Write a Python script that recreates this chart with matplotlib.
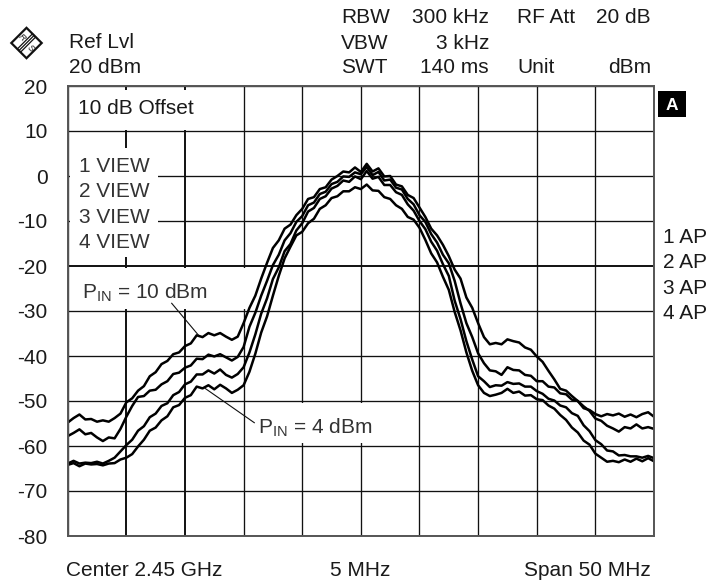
import matplotlib
matplotlib.use("Agg")
import matplotlib.pyplot as plt
from matplotlib.patches import Rectangle, Polygon

W, H = 713, 586
plt.rcParams['font.family'] = ['Liberation Sans', 'DejaVu Sans']
plt.rcParams['mathtext.fontset'] = 'custom'
plt.rcParams['mathtext.rm'] = 'Liberation Sans'

y_ticks = [20, 10, 0, -10, -20, -30, -40, -50, -60, -70, -80]
y_labels = ['20', '10', '0', '-10', '-20', '-30', '-40', '-50', '-60', '-70', '-80']
x_ticks = [-25, -20, -15, -10, -5, 0, 5, 10, 15, 20, 25]

freq = [i * 0.5 - 25 for i in range(101)]

trace1 = [-54.8, -53.8, -53.0, -54.1, -54.0, -54.6, -54.3, -54.6, -53.8, -52.8,
          -50.3, -49.4, -47.7, -46.7, -44.5, -43.6, -41.8, -41.1, -39.6, -39.2,
          -37.8, -37.2, -35.4, -35.8, -34.9, -35.4, -34.9, -35.7, -36.4, -35.7,
          -32.7, -29.3, -26.6, -22.8, -19.3, -16.0, -14.3, -11.7, -10.8, -8.7,
          -7.3, -5.1, -4.7, -2.9, -2.5, -0.8, 0.0, 1.0, 0.8, 1.9,
          0.9, 2.7, 1.0, 1.7, -0.1, 0.0, -1.9, -2.3, -4.2, -4.9,
          -7.0, -9.1, -11.7, -13.2, -15.3, -17.8, -20.8, -22.8, -27.0, -29.3,
          -32.7, -35.8, -37.4, -37.1, -37.4, -36.3, -36.7, -37.0, -38.1, -38.6,
          -40.1, -41.3, -43.3, -45.2, -47.3, -47.7, -48.9, -50.0, -51.6, -52.0,
          -52.9, -53.4, -52.9, -53.2, -52.8, -53.5, -53.0, -53.6, -52.9, -52.5, -53.5]

trace2 = [-57.8, -57.1, -56.3, -57.4, -57.1, -58.1, -58.9, -58.1, -58.3, -56.2,
          -53.5, -51.1, -49.1, -48.9, -47.7, -47.5, -46.3, -45.6, -44.0, -43.7,
          -42.6, -42.1, -40.6, -40.7, -39.7, -40.1, -39.6, -40.3, -41.0, -40.2,
          -38.0, -33.5, -30.4, -26.6, -23.3, -19.8, -17.5, -14.3, -12.7, -10.2,
          -8.9, -6.5, -5.9, -4.0, -3.5, -1.8, -1.3, -0.1, -0.2, 0.8,
          0.4, 2.0, 0.2, 0.9, -1.0, -0.8, -2.6, -3.0, -5.1, -6.3,
          -8.7, -10.2, -12.9, -14.8, -17.5, -19.4, -23.3, -28.3, -32.7, -35.8,
          -39.4, -41.6, -43.2, -43.4, -44.2, -42.5, -43.1, -43.2, -44.2, -44.4,
          -45.6, -45.6, -46.8, -47.0, -48.3, -48.5, -49.7, -50.0, -51.2, -52.2,
          -53.9, -54.4, -55.5, -56.1, -56.8, -55.8, -56.1, -55.2, -56.1, -55.8, -56.2]

trace3 = [-63.9, -63.3, -63.9, -63.7, -63.8, -63.5, -63.9, -63.3, -62.6, -61.2,
          -59.8, -58.6, -56.6, -55.6, -53.6, -52.8, -51.1, -50.5, -48.7, -48.0,
          -46.3, -45.7, -44.1, -44.1, -43.2, -43.9, -43.0, -44.2, -44.8, -44.0,
          -42.5, -39.2, -35.2, -30.6, -27.2, -22.9, -20.3, -16.7, -15.1, -12.1,
          -10.5, -7.9, -7.1, -5.1, -4.5, -2.8, -2.2, -1.0, -1.3, -0.1,
          -0.7, 1.1, -0.6, -0.2, -2.0, -2.0, -3.6, -4.2, -6.3, -7.7,
          -10.0, -11.8, -14.6, -16.6, -19.6, -22.2, -27.7, -31.8, -36.7, -40.8,
          -44.5, -45.6, -46.9, -46.5, -46.6, -45.8, -46.2, -46.1, -46.8, -46.8,
          -47.8, -48.4, -49.5, -49.9, -51.0, -51.4, -52.7, -53.3, -55.4, -56.7,
          -58.7, -59.6, -61.0, -61.2, -62.1, -62.0, -62.3, -62.3, -62.6, -62.2, -62.7]

trace4 = [-64.2, -63.8, -64.5, -63.9, -64.1, -64.0, -64.3, -63.9, -63.8, -63.0,
          -62.6, -61.8, -60.1, -58.6, -56.6, -55.9, -54.3, -53.4, -51.4, -50.9,
          -49.3, -48.7, -46.8, -47.2, -46.5, -47.4, -46.4, -47.2, -48.2, -47.5,
          -46.5, -43.5, -39.5, -34.8, -31.2, -26.6, -22.2, -18.3, -15.7, -13.2,
          -12.4, -10.5, -9.5, -7.3, -6.5, -4.9, -4.5, -3.4, -3.4, -2.5,
          -2.9, -1.9, -3.2, -3.3, -4.7, -5.1, -6.5, -7.3, -9.1, -9.7,
          -11.5, -14.2, -17.2, -19.2, -22.4, -25.3, -30.2, -34.3, -39.2, -43.3,
          -46.5, -48.2, -48.9, -48.6, -48.2, -47.3, -48.2, -47.9, -48.8, -48.7,
          -49.6, -49.8, -51.0, -51.7, -53.1, -54.2, -55.9, -57.0, -58.8, -59.7,
          -61.7, -62.6, -63.5, -63.3, -63.6, -63.0, -63.5, -62.8, -63.4, -62.7, -63.4]

traces = [trace1, trace2, trace3, trace4]

fig = plt.figure(figsize=(W / 100, H / 100), dpi=100)
L, R, T, B = 67.7, 654.0, 86.0, 536.0
ax = fig.add_axes([L / W, 1 - B / H, (R - L) / W, (B - T) / H])
ax.set_xlim(-25, 25)
ax.set_ylim(-80, 20)
ax.set_xticks(x_ticks)
ax.set_yticks(y_ticks)
ax.set_yticklabels(y_labels, fontsize=15, color='#1a1a1a')
ax.tick_params(axis='both', length=0, labelbottom=False, pad=14.5)
ax.grid(True, color='#111111', lw=0.95, zorder=1)
ax.set_axisbelow(True)
for i in (1, 2):
    ax.get_xgridlines()[i].set_linewidth(1.4)
ax.get_ygridlines()[4].set_linewidth(1.4)
for s in ax.spines.values():
    s.set_color('#555555')
    s.set_linewidth(1.4)
    s.set_zorder(6)


def fx(px):
    return px / W


def fy(py):
    return 1 - py / H


def ftext(px, py, s, ha='left', va='baseline', size=15, **kw):
    fig.text(fx(px), fy(py), s, ha=ha, va=va, fontsize=size, color=kw.pop('color', '#1a1a1a'), **kw)


def white(x0, y0, x1, y1):
    ax.add_patch(Rectangle((fx(x0), fy(y1)), fx(x1 - x0), (y1 - y0) / H, transform=fig.transFigure,
                           fc='white', ec='none', zorder=3, clip_on=False))


white(69.5, 89.5, 205, 129.8)
white(69.5, 148, 157.5, 257)
white(69.5, 268, 251, 308.5)
white(250, 403, 376, 443)

for tr in traces:
    ax.plot(freq, tr, color='black', lw=1.8, zorder=5, solid_joinstyle='round')

for (x0, y0, x1, y1) in [(171.7, 303.3, 198.3, 335.0), (205.0, 388.3, 254.3, 422.7)]:
    fig.add_artist(plt.Line2D([fx(x0), fx(x1)], [fy(y0), fy(y1)], color='#111111', lw=0.8, zorder=7))

# header
ftext(69, 48, 'Ref Lvl')
ftext(69, 73, '20 dBm')
ftext(341, 23, 'RBW')
ftext(341, 49, 'VBW')
ftext(341, 73, 'SWT')
ftext(489, 23, '300 kHz', ha='right')
ftext(489, 49, '3 kHz', ha='right')
ftext(489, 73, '140 ms', ha='right')
ftext(517, 23, 'RF Att')
ftext(517, 73, 'Unit')
ftext(651, 23, '20 dB', ha='right')
ftext(651, 73, 'dBm', ha='right')

# footer
ftext(66, 576, 'Center 2.45 GHz')
ftext(360, 576, '5 MHz', ha='center')
ftext(651, 576, 'Span 50 MHz', ha='right')

# inner labels
ftext(78, 114, '10 dB Offset')
for i, yy in enumerate([172, 197, 223, 248]):
    ftext(79, yy, f'{i + 1} VIEW', color='#333333')
for i, yy in enumerate([243, 268.5, 294, 319]):
    ftext(663, yy, f'{i + 1} AP')
ftext(82, 298, r'P$_{\mathrm{IN}}$ = 10 dBm', color='#333333')
ftext(258, 433, r'P$_{\mathrm{IN}}$ = 4 dBm', color='#333333')

# A box
fig.add_artist(Rectangle((fx(658), fy(117)), 28 / W, 26 / H, transform=fig.transFigure, fc='black', ec='none'))
ftext(672, 110, 'A', ha='center', color='white', size=12.5, fontweight='bold', zorder=10)

# logo
cx, cy, rr = 26.5, 43, 15.2
fig.add_artist(Polygon([(fx(cx - rr), fy(cy)), (fx(cx), fy(cy - rr)), (fx(cx + rr), fy(cy)), (fx(cx), fy(cy + rr))],
                       closed=True, transform=fig.transFigure, fc='white', ec='#111111', lw=1.6))
for d in (-1.6, 0, 1.6):
    fig.add_artist(plt.Line2D([fx(cx - 7.5 + d), fx(cx + 7.5 + d)], [fy(cy + 7.5 + d), fy(cy - 7.5 + d)],
                              color='#111111', lw=0.9))
ftext(22, 38, 'R', ha='center', va='center', size=6.5, style='italic', rotation=-45)
ftext(31, 48, 'S', ha='center', va='center', size=6.5, style='italic', rotation=-45)

fig.savefig('out.png', dpi=100)
